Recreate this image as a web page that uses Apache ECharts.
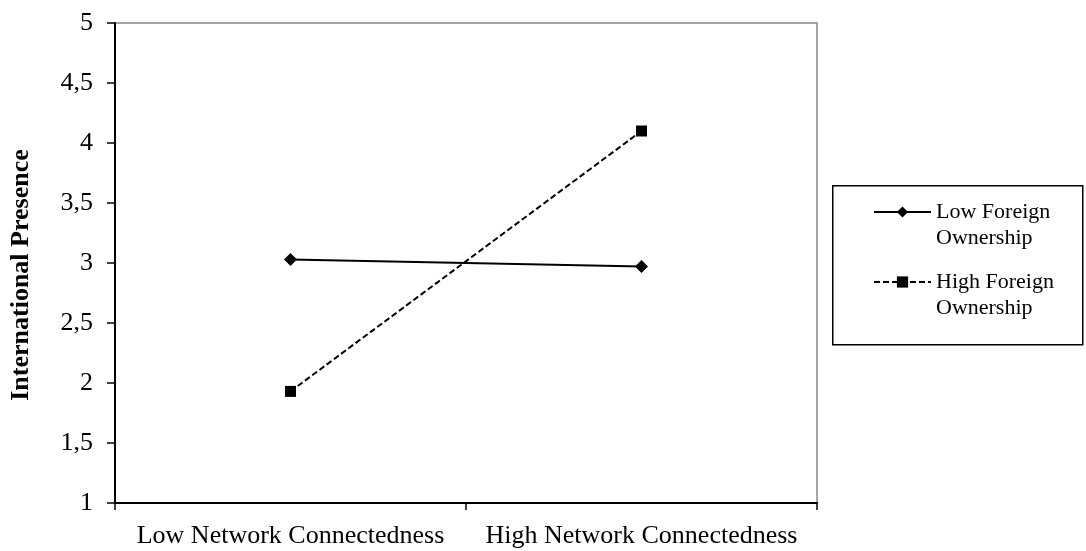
<!DOCTYPE html>
<html>
<head>
<meta charset="utf-8">
<script src="https://cdn.jsdelivr.net/npm/echarts@6/dist/echarts.min.js"></script>
<style>html,body{margin:0;padding:0;background:#fff;}#c{width:1086px;height:551px;}</style>
</head>
<body>
<div id="c"></div>
<script>
var categories = ['Low Network Connectedness', 'High Network Connectedness'];
var lowForeign = [3.03, 2.97];
var highForeign = [1.93, 4.10];
var seriesNames = ['Low Foreign\nOwnership', 'High Foreign\nOwnership'];
var yMin = 1, yMax = 5, yStep = 0.5;

var FONT = '"Liberation Serif", "Times New Roman", serif';
var chart = echarts.init(document.getElementById('c'), null, {renderer: 'canvas'});
chart.setOption({
  animation: false,
  backgroundColor: '#fff',
  grid: {left: 115, top: 23, right: 269, bottom: 48, containLabel: false, outerBoundsMode: 'none',
    show: true, borderColor: '#888', borderWidth: 1.5, backgroundColor: 'transparent'},
  graphic: [{
    type: 'rect', left: 832, top: 185, z: 0,
    shape: {width: 250, height: 159},
    style: {fill: '#fff', stroke: '#000', lineWidth: 1.5}
  }],
  legend: {
    orient: 'vertical', left: 873, top: 173, padding: 0,
    itemWidth: 57, itemHeight: 14, itemGap: -8,
    formatter: function (name) { return ' \n' + name; },
    textStyle: {fontFamily: FONT, fontSize: 22, color: '#000', lineHeight: 26},
    data: seriesNames
  },
  xAxis: {
    type: 'category', data: categories, boundaryGap: true,
    axisLine: {lineStyle: {color: '#000', width: 2}},
    axisTick: {show: true, length: 7, alignWithLabel: false, lineStyle: {color: '#000', width: 1.5}},
    axisLabel: {interval: 0, margin: 20, color: '#000', fontFamily: FONT, fontSize: 26},
    splitLine: {show: false}
  },
  yAxis: {
    type: 'value', min: yMin, max: yMax, interval: yStep,
    name: 'International Presence', nameLocation: 'middle', nameRotate: 90, nameGap: 81,
    nameTextStyle: {fontFamily: FONT, fontSize: 26, fontWeight: 'bold', color: '#000', padding: [0, 24, 0, 0]},
    axisLine: {show: true, lineStyle: {color: '#000', width: 2}},
    axisTick: {show: true, length: 8, lineStyle: {color: '#000', width: 1.5}},
    axisLabel: {margin: 22, color: '#000', fontFamily: FONT, fontSize: 26,
      formatter: function (v) { return String(v).replace('.', ','); }},
    splitLine: {show: false}
  },
  series: [{
    name: seriesNames[0], type: 'line', data: lowForeign,
    symbol: 'diamond', symbolSize: 13,
    lineStyle: {color: '#000', width: 2, type: 'solid'},
    itemStyle: {color: '#000'}
  }, {
    name: seriesNames[1], type: 'line', data: highForeign,
    symbol: 'rect', symbolSize: 11,
    lineStyle: {color: '#000', width: 2, type: [6, 3]},
    itemStyle: {color: '#000'}
  }]
});
</script>
</body>
</html>
